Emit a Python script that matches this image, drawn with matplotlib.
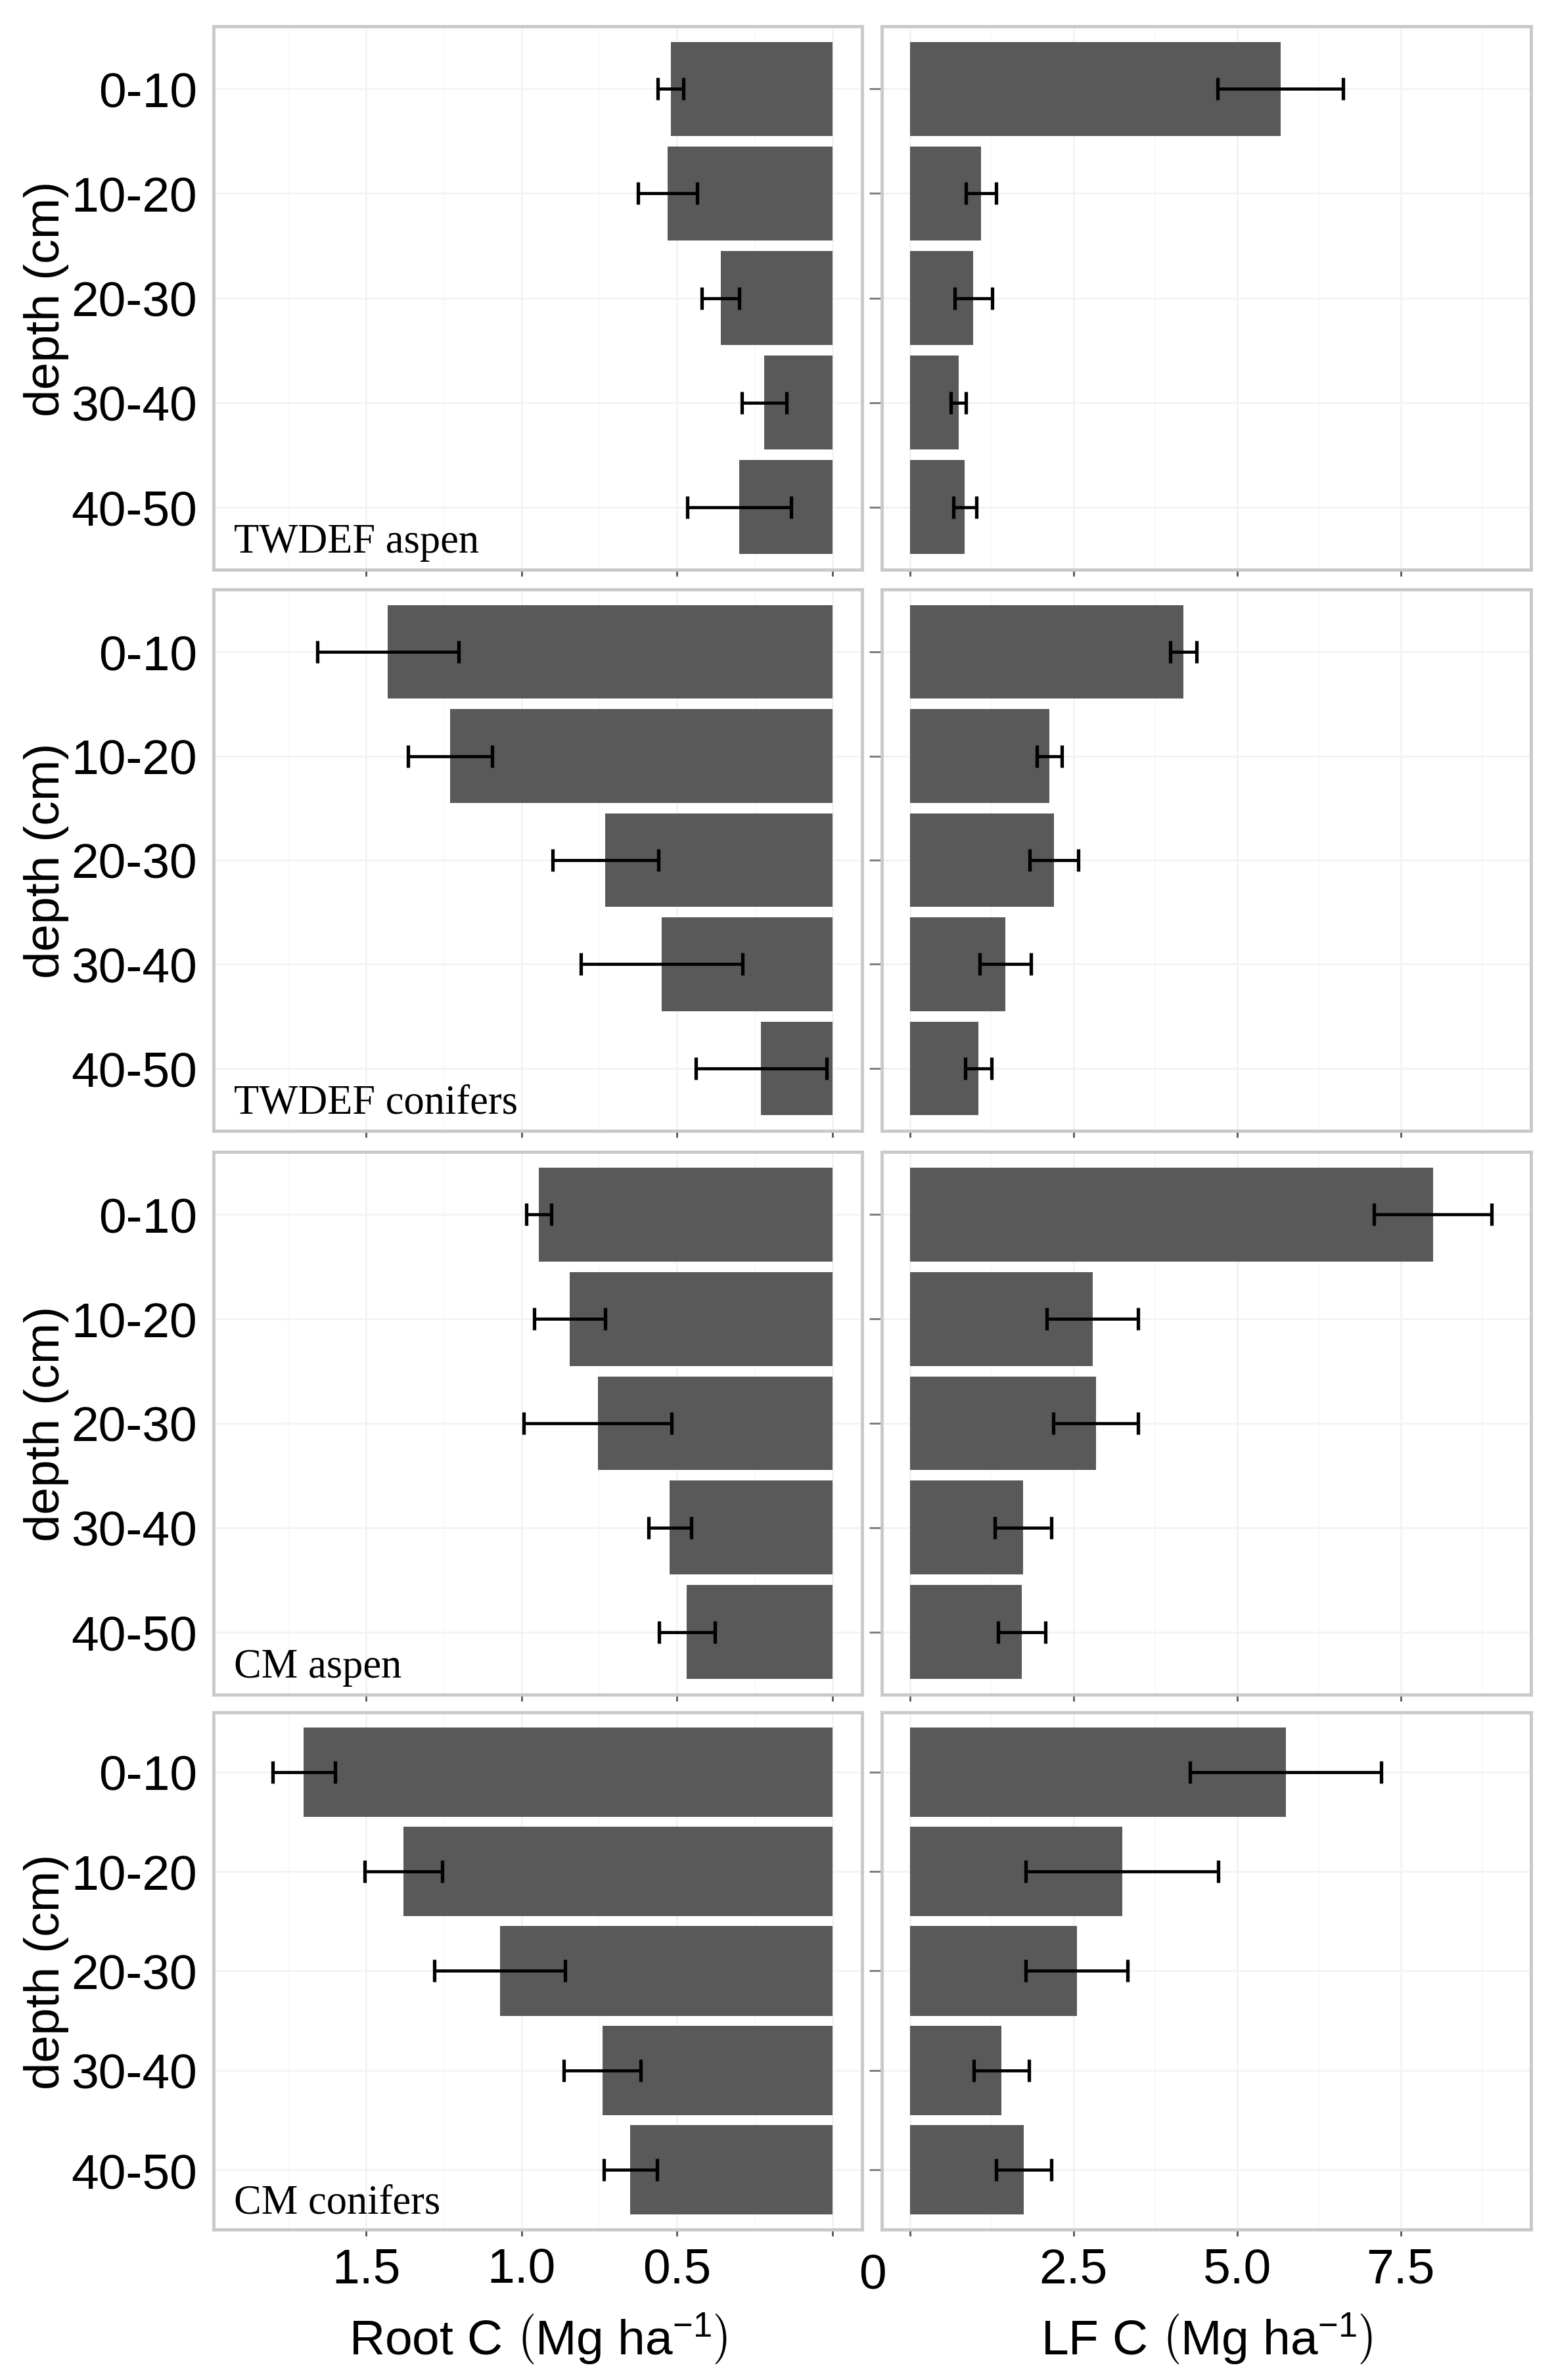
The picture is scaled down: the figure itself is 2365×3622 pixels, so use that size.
import numpy as np
import matplotlib
matplotlib.use("Agg")
import matplotlib.pyplot as plt

plt.rcParams['font.family'] = ['Liberation Sans', 'DejaVu Sans']
plt.rcParams['mathtext.fontset'] = 'custom'
plt.rcParams['mathtext.rm'] = 'Liberation Sans'
plt.rcParams['mathtext.it'] = 'Liberation Sans:italic'

depths = ['0-10', '10-20', '20-30', '30-40', '40-50']
sites = ['TWDEF aspen', 'TWDEF conifers', 'CM aspen', 'CM conifers']

# root C (Mg/ha) and standard errors, one list per site
root_twdef_aspen = [0.52, 0.53, 0.36, 0.22, 0.30]
root_twdef_aspen_se = [0.041, 0.095, 0.06, 0.072, 0.167]
root_twdef_conifers = [1.43, 1.23, 0.73, 0.55, 0.23]
root_twdef_conifers_se = [0.227, 0.135, 0.17, 0.26, 0.21]
root_cm_aspen = [0.945, 0.846, 0.755, 0.523, 0.468]
root_cm_aspen_se = [0.04, 0.114, 0.237, 0.068, 0.09]
root_cm_conifers = [1.70, 1.38, 1.07, 0.74, 0.65]
root_cm_conifers_se = [0.10, 0.125, 0.21, 0.124, 0.085]

# light fraction C (Mg/ha)
lf_twdef_aspen = [5.66, 1.09, 0.97, 0.74, 0.84]
lf_twdef_aspen_se = [0.96, 0.23, 0.29, 0.12, 0.18]
lf_twdef_conifers = [4.18, 2.13, 2.20, 1.46, 1.05]
lf_twdef_conifers_se = [0.20, 0.19, 0.37, 0.39, 0.20]
lf_cm_aspen = [7.99, 2.79, 2.84, 1.73, 1.71]
lf_cm_aspen_se = [0.90, 0.70, 0.65, 0.43, 0.36]
lf_cm_conifers = [5.74, 3.24, 2.55, 1.40, 1.74]
lf_cm_conifers_se = [1.46, 1.47, 0.78, 0.42, 0.42]

root = [root_twdef_aspen, root_twdef_conifers, root_cm_aspen, root_cm_conifers]
root_se = [root_twdef_aspen_se, root_twdef_conifers_se, root_cm_aspen_se, root_cm_conifers_se]
lf = [lf_twdef_aspen, lf_twdef_conifers, lf_cm_aspen, lf_cm_conifers]
lf_se = [lf_twdef_aspen_se, lf_twdef_conifers_se, lf_cm_aspen_se, lf_cm_conifers_se]

root_ticks = [0, 0.5, 1.0, 1.5]
root_ticklabels = ['', '0.5', '1.0', '1.5']
lf_ticks = [0, 2.5, 5.0, 7.5]
lf_ticklabels = ['', '2.5', '5.0', '7.5']

W, H = 2365, 3623
fig = plt.figure(figsize=(W / 100, H / 100), dpi=100)

rows_px = [(41, 868), (898, 1722), (1754, 2580), (2607, 3394)]
left_px = (325, 1312)
right_px = (1342, 2330)

bar_col = '#595959'
border_col = '#c9c9c9'
pos = np.arange(1, len(depths) + 1)
FS = 54


def make_ax(xpx, ypx):
    rect = [xpx[0] / W, 1 - ypx[1] / H, (xpx[1] - xpx[0]) / W, (ypx[1] - ypx[0]) / H]
    return fig.add_axes(rect)


def style(ax, ticks, minor):
    ax.set_ylim(5.6, 0.4)
    ax.set_xticks(ticks)
    ax.set_xticks(minor, minor=True)
    ax.set_yticks(pos)
    ax.grid(True, which='major', color='#f3f3f3', linewidth=2)
    ax.grid(True, which='minor', axis='x', color='#f9f9f9', linewidth=1.5)
    ax.set_axisbelow(True)
    for s in ax.spines.values():
        s.set_color(border_col)
        s.set_linewidth(3.5)
    ax.tick_params(axis='x', which='major', length=7, width=2, color='#555555',
                   labelsize=FS, pad=12)
    ax.tick_params(axis='x', which='minor', length=0)


def draw_bars(ax, vals, se):
    ax.barh(pos, vals, height=0.9, color=bar_col, zorder=2)
    ax.errorbar(vals, pos, xerr=se, fmt='none', ecolor='black',
                elinewidth=3.4, capsize=12, capthick=3.8, zorder=3)


for i in range(4):
    axl = make_ax(left_px, rows_px[i])
    draw_bars(axl, root[i], root_se[i])
    axl.set_xlim(1.99, -0.095)
    style(axl, root_ticks, [0.25, 0.75, 1.25, 1.75])
    axl.set_yticklabels(depths)
    axl.tick_params(axis='y', length=0, labelsize=FS, pad=18)
    axl.set_ylabel('depth (cm)', fontsize=FS, labelpad=2)
    axl.text(0.031, 0.033, sites[i], transform=axl.transAxes, fontsize=45,
             family=['Liberation Serif', 'DejaVu Serif'], va='baseline', ha='left')

    axr = make_ax(right_px, rows_px[i])
    draw_bars(axr, lf[i], lf_se[i])
    axr.set_xlim(-0.43, 9.49)
    style(axr, lf_ticks, [1.25, 3.75, 6.25, 8.75])
    axr.set_yticklabels([])
    axr.tick_params(axis='y', length=14, width=2, color='#777777')

    if i == 3:
        axl.set_xticklabels(root_ticklabels)
        axr.set_xticklabels(lf_ticklabels)
        axl.set_xlabel(r'Root C $\left(\mathrm{Mg\ ha^{-1}}\right)$', fontsize=FS, labelpad=20)
        axr.set_xlabel(r'LF C $\left(\mathrm{Mg\ ha^{-1}}\right)$', fontsize=FS, labelpad=20)
    else:
        axl.set_xticklabels([])
        axr.set_xticklabels([])

# shared zero between the two columns
fig.text(1328 / W, 1 - 3430 / H, '0', fontsize=FS, ha='center', va='top')

fig.savefig('out.png', dpi=100, facecolor='white')
